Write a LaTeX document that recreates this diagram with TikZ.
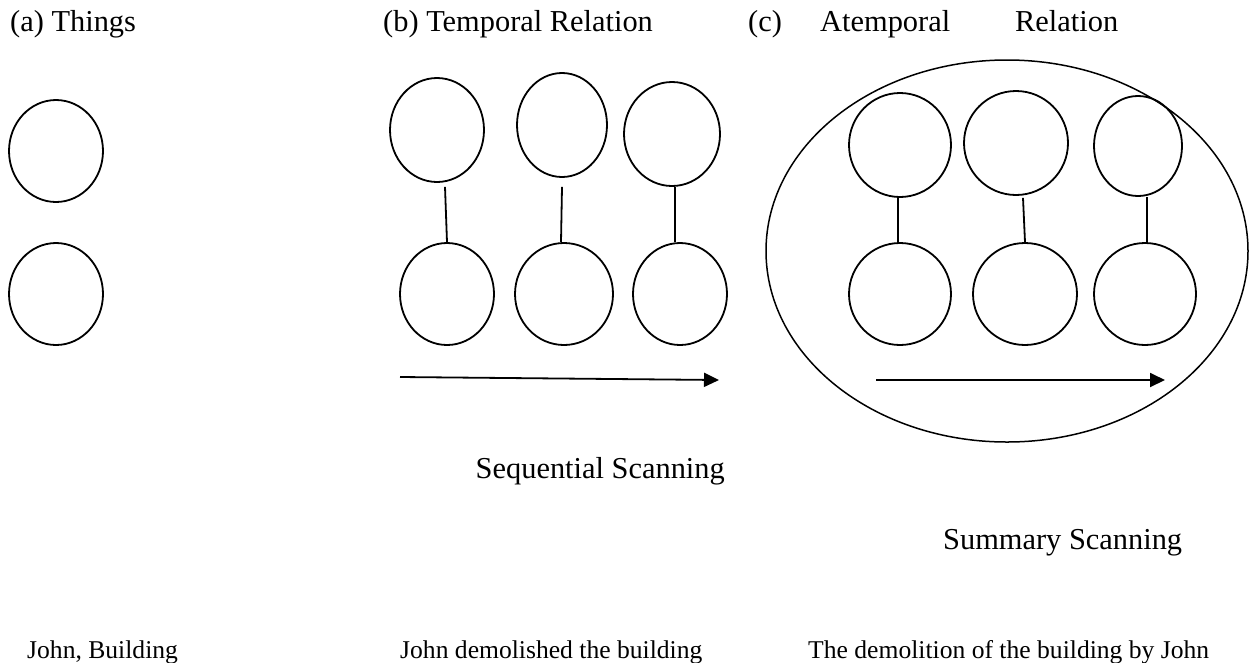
\documentclass[tikz,border=0pt]{standalone}
\usepackage{fontspec}
\setmainfont{Liberation Serif}
\usetikzlibrary{shapes.geometric,arrows.meta}
\begin{document}
\begin{tikzpicture}[x=1pt,y=-1pt,
  ring/.style={ellipse,draw,line width=1.8pt,inner sep=0pt},
  link/.style={line width=1.8pt},
  flow/.style={line width=1.8pt,-{Triangle[length=15pt,width=14pt]}},
  head/.style={anchor=base west,inner sep=0pt,font=\fontsize{30.4}{36}\selectfont},
  label/.style={inner sep=0pt,font=\fontsize{30.4}{36}\selectfont},
  example/.style={anchor=base west,inner sep=0pt,font=\fontsize{25.6}{30}\selectfont}]
\useasboundingbox[fill=white] (0,0) rectangle (1250,662);

% headings
\node[head] (ha) at (10,31) {(a) Things};
\node[head] (hb) at (383,31) {(b) Temporal Relation};
\node[head] (hc1) at (748,31) {(c)};
\node[head] (hc2) at (820,31) {Atemporal};
\node[head] (hc3) at (1015,31) {Relation};

% (a) things
\node[ring,minimum width=94pt,minimum height=102pt] (a1) at (56,151) {};
\node[ring,minimum width=94pt,minimum height=102pt] (a2) at (56,294) {};

% (b) temporal relation
\node[ring,minimum width=94pt,minimum height=104pt] (bt1) at (437,130) {};
\node[ring,minimum width=90pt,minimum height=104pt] (bt2) at (562,125) {};
\node[ring,minimum width=96pt,minimum height=104pt] (bt3) at (672,134) {};
\node[ring,minimum width=94pt,minimum height=102pt] (bb1) at (447,294) {};
\node[ring,minimum width=98pt,minimum height=102pt] (bb2) at (564,294) {};
\node[ring,minimum width=94pt,minimum height=102pt] (bb3) at (680,294) {};
\draw[link] ([shift={(8,4)}]bt1.south) -- (bb1.north);
\draw[link] ([shift={(0,9)}]bt2.south) -- ([xshift=-3pt]bb2.north);
\draw[link] ([xshift=3pt]bt3.south) -- ([xshift=-5pt]bb3.north);
\coordinate (bs) at (400,377);
\coordinate (be) at (719,380);
\draw[flow] (bs) -- (be);
\node[label,anchor=base east] (seq) at (725,478) {Sequential Scanning};

% (c) atemporal relation
\node[ellipse,draw,line width=1.5pt,inner sep=0pt,minimum width=482pt,minimum height=382pt] (frame) at (1007,251) {};
\node[ring,minimum width=102pt,minimum height=104pt] (ct1) at (900,145) {};
\node[ring,minimum width=104pt,minimum height=104pt] (ct2) at (1016,143) {};
\node[ring,minimum width=88pt,minimum height=100pt] (ct3) at (1138,146) {};
\node[ring,minimum width=102pt,minimum height=102pt] (cb1) at (900,294) {};
\node[ring,minimum width=104pt,minimum height=102pt] (cb2) at (1025,294) {};
\node[ring,minimum width=102pt,minimum height=102pt] (cb3) at (1145,294) {};
\draw[link] ([xshift=-2pt]ct1.south) -- ([xshift=-2pt]cb1.north);
\draw[link] ([shift={(7,2)}]ct2.south) -- (cb2.north);
\draw[link] ([xshift=9pt]ct3.south) -- ([xshift=2pt]cb3.north);
\coordinate (cs) at (876,380);
\coordinate (ce) at (1165,380);
\draw[flow] (cs) -- (ce);
\node[label,anchor=base west] (sum) at (943,549) {Summary Scanning};

% example expressions
\node[example] (ea) at (27,658) {John, Building};
\node[example] (eb) at (400,658) {John demolished the building};
\node[example] (ec) at (808,658) {The demolition of the building by John};
\end{tikzpicture}
\end{document}
